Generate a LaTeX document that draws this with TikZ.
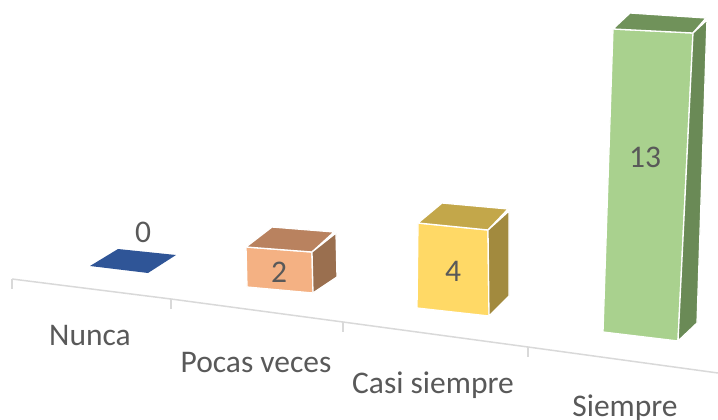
\documentclass[tikz,border=0pt]{standalone}
\usepackage{fontspec}
\setmainfont{Carlito}
\usepackage{tikz}
\definecolor{txtgray}{HTML}{595959}
\definecolor{axgray}{HTML}{D9D9D9}
\definecolor{blueface}{HTML}{2F5597}
\definecolor{orfront}{HTML}{F4B183}
\definecolor{ortop}{HTML}{B9825F}
\definecolor{orside}{HTML}{9A6F4F}
\definecolor{yefront}{HTML}{FFD966}
\definecolor{yetop}{HTML}{C3A74A}
\definecolor{yeside}{HTML}{A28A3E}
\definecolor{grfront}{HTML}{A9D18E}
\definecolor{grtop}{HTML}{70925A}
\definecolor{grside}{HTML}{6A8A56}

\begin{document}
\begin{tikzpicture}[x=1pt, y=-1pt,
		face/.style={draw=white, line width=1.3pt, line join=round},
		lbl/.style={text=txtgray, anchor=base, inner sep=0pt, font=\fontsize{31.5}{36}\selectfont}]
		%%%%% START %%%%%
		
		\useasboundingbox (0, 0) rectangle (718, 420);
		
		% axis with ticks
		\draw[axgray, line width=1.5pt] (12, 279) -- (171, 299) -- (343, 322) -- (528, 347) -- (718, 373);
		\draw[axgray, line width=1.5pt] (12, 279) -- (12, 289);
		\draw[axgray, line width=1.5pt] (171, 299) -- (171, 309);
		\draw[axgray, line width=1.5pt] (343, 322) -- (343, 332);
		\draw[axgray, line width=1.5pt] (528, 347) -- (528, 357);
		
		% Nunca (0)
		\fill[blueface] (90, 266) -- (118, 249) -- (176, 255) -- (148, 273) -- cycle;
		
		% Pocas veces (2)
		\draw[face, fill=orfront] (246, 247) -- (312, 252) -- (313, 293) -- (247, 287) -- cycle;
		\draw[face, fill=ortop] (246, 247) -- (272, 227) -- (334, 232) -- (312, 252) -- cycle;
		\draw[face, fill=orside] (312, 252) -- (336, 233) -- (337, 277) -- (313, 293) -- cycle;
		
		% Casi siempre (4)
		\draw[face, fill=yefront] (418, 223) -- (488, 230) -- (489, 316) -- (417, 308) -- cycle;
		\draw[face, fill=yetop] (418, 223) -- (442, 203) -- (508, 209) -- (488, 230) -- cycle;
		\draw[face, fill=yeside] (488, 230) -- (509, 211) -- (509, 296) -- (489, 316) -- cycle;
		
		% Siempre (13)
		\draw[face, fill=grfront] (613, 29) -- (693, 33) -- (678, 341) -- (603, 332) -- cycle;
		\draw[face, fill=grtop] (613, 29) -- (630, 13) -- (706, 18) -- (693, 33) -- cycle;
		\draw[face, fill=grside] (693, 33) -- (707, 20) -- (697, 323) -- (678, 341) -- cycle;
		
		% values
		\node[lbl] (val0) at (143, 242) {0};
		\node[lbl] (val2) at (279, 282) {2};
		\node[lbl] (val4) at (453, 281) {4};
		\node[lbl] (val13) at (645, 167) {13};
		
		% categories
		\node[lbl] (catNunca) at (90, 345) {Nunca};
		\node[lbl] (catPocas) at (256, 372) {Pocas veces};
		\node[lbl] (catCasi) at (433, 393) {Casi siempre};
		\node[lbl] (catSiempre) at (625, 416) {Siempre};
		
		%%%%% END %%%%%
	\end{tikzpicture}
\end{document}
